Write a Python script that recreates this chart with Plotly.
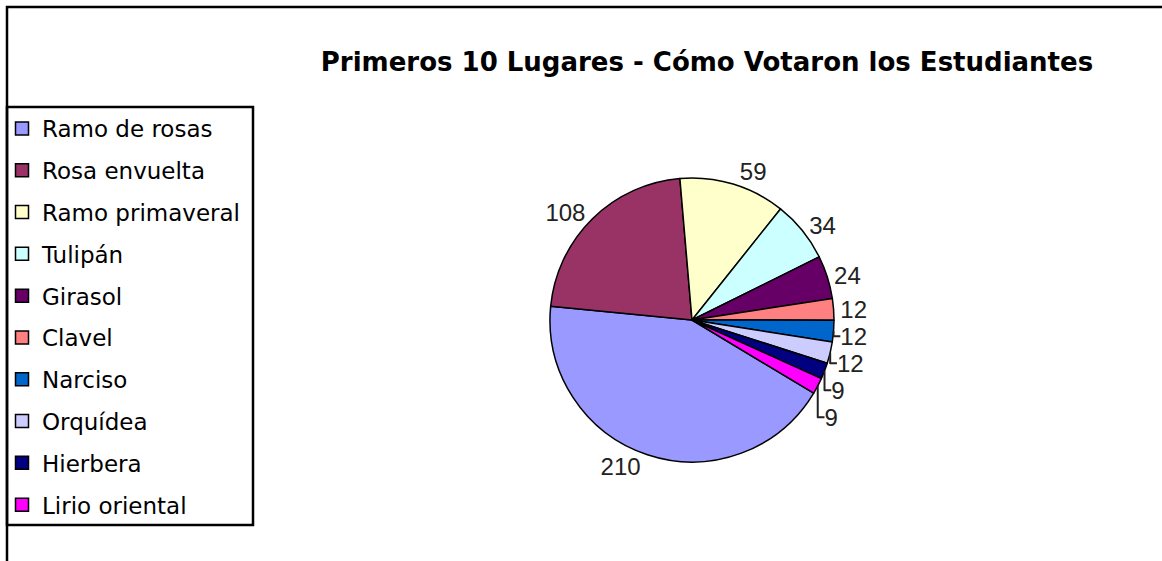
import plotly.graph_objects as go

W, H = 1162, 561

categories = ["Ramo de rosas", "Rosa envuelta", "Ramo primaveral", "Tulipán", "Girasol",
              "Clavel", "Narciso", "Orquídea", "Hierbera", "Lirio oriental"]
votes = [210, 108, 59, 34, 24, 12, 12, 12, 9, 9]
colors = ["#9999FF", "#993366", "#FFFFCC", "#CCFFFF", "#660066",
          "#FF8080", "#0066CC", "#CCCCFF", "#000080", "#FF00FF"]
title_text = "Primeros 10 Lugares - Cómo Votaron los Estudiantes"

def px_x(p):
    return p / W

def px_y(p):
    return 1 - p / H

cx, cy, r = 692, 320, 142

fig = go.Figure()
fig.add_trace(go.Pie(
    labels=categories, values=votes, sort=False, direction="clockwise", rotation=121,
    marker=dict(colors=colors, line=dict(color="black", width=1.5)),
    textposition="outside", texttemplate="%{value}", textinfo="value",
    textfont=dict(family="Liberation Sans", size=24, color="#222222"),
    showlegend=False, hoverinfo="label+value",
    domain=dict(x=[px_x(cx - r), px_x(cx + r)], y=[px_y(cy + r), px_y(cy - r)]),
))

# legend entries (one group each to control spacing)
for name, col in zip(categories, colors):
    fig.add_trace(go.Scatter(
        x=[None], y=[None], mode="markers", name=name, legendgroup=name,
        marker=dict(symbol="square", size=13, color=col, line=dict(color="black", width=1.5)),
    ))

fig.update_layout(
    width=W, height=H, margin=dict(l=0, r=0, t=0, b=0),
    paper_bgcolor="white", plot_bgcolor="white",
    xaxis=dict(visible=False), yaxis=dict(visible=False),
    title=dict(text="<b>" + title_text + "</b>", x=px_x(707), xanchor="center",
               y=px_y(62), yanchor="middle", yref="container",
               font=dict(family="DejaVu Sans", size=26, color="black")),
    legend=dict(x=px_x(2), xanchor="left", y=px_y(107), yanchor="top",
                font=dict(family="DejaVu Sans", size=23, color="black"),
                tracegroupgap=8.9, borderwidth=0, bgcolor="rgba(0,0,0,0)"),
    shapes=[
        dict(type="rect", xref="paper", yref="paper", x0=px_x(7), x1=1.1, y0=-0.1, y1=px_y(7),
             line=dict(color="black", width=2.5)),
        dict(type="rect", xref="paper", yref="paper", x0=px_x(7), x1=px_x(253), y0=px_y(525), y1=px_y(107),
             line=dict(color="black", width=2.5)),
    ],
)

fig.write_html("out.html", config={"displayModeBar": False},
               post_script="document.body.style.margin='0';")
